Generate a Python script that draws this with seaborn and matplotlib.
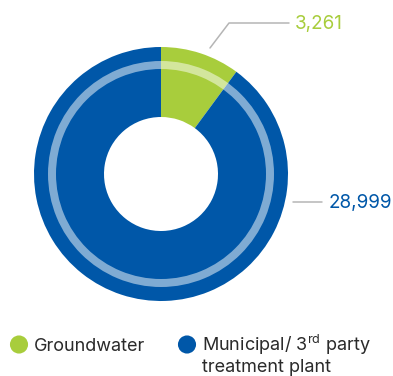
import matplotlib
matplotlib.use("Agg")
import matplotlib.pyplot as plt
import seaborn as sns

# Water withdrawal by source
categories = ["Groundwater", "Municipal/ 3$^{\\mathrm{rd}}$ party\ntreatment plant"]
values = [3261, 28999]
value_labels = ["3,261", "28,999"]
colors = ["#a8cd3c", "#0057a8"]

sns.set_theme(style="white")
plt.rcParams["font.family"] = ["Inter", "DejaVu Sans"]
plt.rcParams["mathtext.fontset"] = "custom"
plt.rcParams["mathtext.rm"] = "Inter"

W, H = 393, 376
fig = plt.figure(figsize=(W / 100, H / 100), dpi=100)
ax = fig.add_axes([0, 0, 1, 1])

cx, cy = 161, H - 174
R_out, R_in = 127, 57

# main donut, starting at 12 o'clock and running clockwise
ax.pie(values, colors=colors, startangle=90, counterclock=False,
       radius=R_out, center=(cx, cy),
       wedgeprops=dict(width=R_out - R_in, edgecolor="none", linewidth=0))

# translucent inner ring over the donut
ax.pie([sum(values)], colors=["white"], radius=113, center=(cx, cy),
       wedgeprops=dict(width=8, edgecolor="none", alpha=0.5, linewidth=0))

ax.set_xlim(0, W)
ax.set_ylim(0, H)
ax.set_aspect("equal")
ax.axis("off")

# value callouts
line_col = "#b5b5b5"
num_size = 13.6
ax.plot([210, 229, 289], [H - 48, H - 23, H - 23], color=line_col, lw=1.1)
ax.text(295, H - 28.5, value_labels[0], color=colors[0], fontsize=num_size,
        va="baseline", ha="left")
ax.plot([293, 322], [H - 202, H - 202], color=line_col, lw=1.1)
ax.text(329, H - 208, value_labels[1], color=colors[1], fontsize=num_size,
        va="baseline", ha="left")

# legend
leg_x = [19, 187]
base_y = 351
line_gap = 21
for x, lab, c in zip(leg_x, categories, colors):
    ax.scatter([x], [H - 344.5], s=170, color=c, edgecolor="none")
    for i, line in enumerate(lab.split("\n")):
        ax.text(x + 15, H - (base_y + i * line_gap), line, fontsize=13.0,
                color="#2a2a2a", va="baseline", ha="left")

fig.savefig("out.png", dpi=100)
